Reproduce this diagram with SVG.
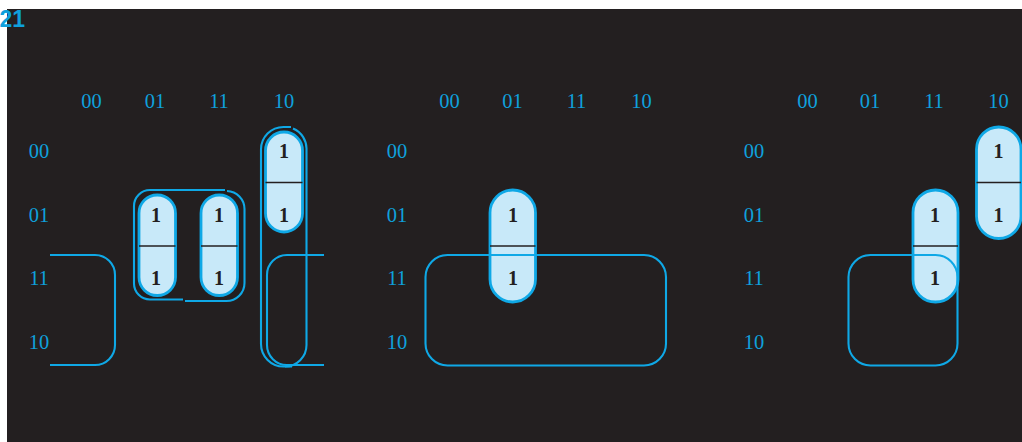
<svg xmlns="http://www.w3.org/2000/svg" width="1022" height="442" viewBox="0 0 1022 442">
<style>
.lbl{font-family:"Liberation Serif","Times New Roman",serif;font-size:20.5px;fill:#0fa0dc;text-anchor:middle}
.one{font-family:"Liberation Serif","Times New Roman",serif;font-size:20px;font-weight:bold;fill:#231f20;text-anchor:middle}
.pill{fill:#c8e9f9;stroke:#0fa8e6;stroke-width:2.8}
.div{stroke:#231f20;stroke-width:1.3}
.loop{fill:none;stroke:#0fa8e6;stroke-width:2.1}
</style>
<rect x="0" y="0" width="1022" height="442" fill="#ffffff"/>
<rect x="7" y="9" width="1015" height="433" fill="#231f20"/>
<text x="-0.5" y="27" font-family="Liberation Sans, Arial, sans-serif" font-weight="bold" font-size="23" fill="#0fa0dc">21</text>

<!-- Map 1 -->
<g id="map1">
  <g id="map1-labels">
    <text class="lbl" x="91.5" y="108">00</text>
    <text class="lbl" x="155" y="108">01</text>
    <text class="lbl" x="219" y="108">11</text>
    <text class="lbl" x="284" y="108">10</text>
    <text class="lbl" x="39" y="157.5">00</text>
    <text class="lbl" x="39" y="221.5">01</text>
    <text class="lbl" x="39" y="285">11</text>
    <text class="lbl" x="39" y="348.5">10</text>
  </g>
  <g id="map1-pill-a">
    <rect class="pill" x="139" y="195" width="36.5" height="100.5" rx="18.2"/>
    <line class="div" x1="139" y1="246" x2="175.5" y2="246"/>
    <text class="one" x="156" y="221.5">1</text>
    <text class="one" x="156" y="285">1</text>
  </g>
  <g id="map1-pill-b">
    <rect class="pill" x="201" y="195" width="36.5" height="100.5" rx="18.2"/>
    <line class="div" x1="201" y1="246" x2="237.5" y2="246"/>
    <text class="one" x="219" y="221.5">1</text>
    <text class="one" x="219" y="285">1</text>
  </g>
  <g id="map1-pill-c">
    <rect class="pill" x="265.5" y="132" width="37" height="100" rx="18.5"/>
    <line class="div" x1="265.5" y1="182.5" x2="302.5" y2="182.5"/>
    <text class="one" x="284" y="157.5">1</text>
    <text class="one" x="284" y="221.5">1</text>
  </g>
  <g id="map1-loop-quad">
    <path class="loop" d="M 183 299.5 H 150 A 16 16 0 0 1 134 283.5 V 206 A 16 16 0 0 1 150 190 H 225"/>
    <path class="loop" d="M 227 191 A 18 18 0 0 1 244.5 209 V 283 A 18 18 0 0 1 226.5 301 H 185"/>
  </g>
  <g id="map1-loop-tall">
    <path class="loop" d="M 292 366.5 H 283.5 A 22.5 22.5 0 0 1 261 344 V 149.5 A 22.5 22.5 0 0 1 283.5 127 H 291"/>
    <path class="loop" d="M 293 128.5 A 22 22 0 0 1 306.5 150 V 345 A 21.5 21.5 0 0 1 285 366.5"/>
  </g>
  <g id="map1-loop-wrap-left">
    <path class="loop" d="M 50 255 H 95 A 20 20 0 0 1 115 275 V 345 A 20 20 0 0 1 95 365 H 50"/>
  </g>
  <g id="map1-loop-wrap-right">
    <path class="loop" d="M 324 255 H 287 A 20 20 0 0 0 267 275 V 345 A 20 20 0 0 0 287 365 H 324"/>
  </g>
</g>

<!-- Map 2 -->
<g id="map2">
  <g id="map2-labels">
    <text class="lbl" x="449.5" y="108">00</text>
    <text class="lbl" x="512.5" y="108">01</text>
    <text class="lbl" x="576.5" y="108">11</text>
    <text class="lbl" x="641.5" y="108">10</text>
    <text class="lbl" x="397" y="157.5">00</text>
    <text class="lbl" x="397" y="221.5">01</text>
    <text class="lbl" x="397" y="285">11</text>
    <text class="lbl" x="397" y="348.5">10</text>
  </g>
  <g id="map2-pill">
    <rect class="pill" x="490" y="190" width="45.5" height="112" rx="22.7"/>
    <line class="div" x1="490" y1="246" x2="535.5" y2="246"/>
    <text class="one" x="513" y="221.5">1</text>
    <text class="one" x="513" y="285">1</text>
  </g>
  <g id="map2-loop">
    <rect class="loop" x="425.5" y="255" width="240.5" height="110.5" rx="22"/>
  </g>
</g>

<!-- Map 3 -->
<g id="map3">
  <g id="map3-labels">
    <text class="lbl" x="807.5" y="108">00</text>
    <text class="lbl" x="870" y="108">01</text>
    <text class="lbl" x="934" y="108">11</text>
    <text class="lbl" x="998.5" y="108">10</text>
    <text class="lbl" x="754" y="157.5">00</text>
    <text class="lbl" x="754" y="221.5">01</text>
    <text class="lbl" x="754" y="285">11</text>
    <text class="lbl" x="754" y="348.5">10</text>
  </g>
  <g id="map3-pill-a">
    <rect class="pill" x="913" y="190" width="45" height="112" rx="22.5"/>
    <line class="div" x1="913" y1="246" x2="958" y2="246"/>
    <text class="one" x="935" y="221.5">1</text>
    <text class="one" x="935" y="285">1</text>
  </g>
  <g id="map3-pill-b">
    <rect class="pill" x="976.5" y="127" width="44.5" height="111.5" rx="22.2"/>
    <line class="div" x1="976.5" y1="182.5" x2="1021" y2="182.5"/>
    <text class="one" x="998.5" y="157.5">1</text>
    <text class="one" x="998.5" y="221.5">1</text>
  </g>
  <g id="map3-loop">
    <rect class="loop" x="848.5" y="255" width="109" height="110.5" rx="22"/>
  </g>
</g>
</svg>
